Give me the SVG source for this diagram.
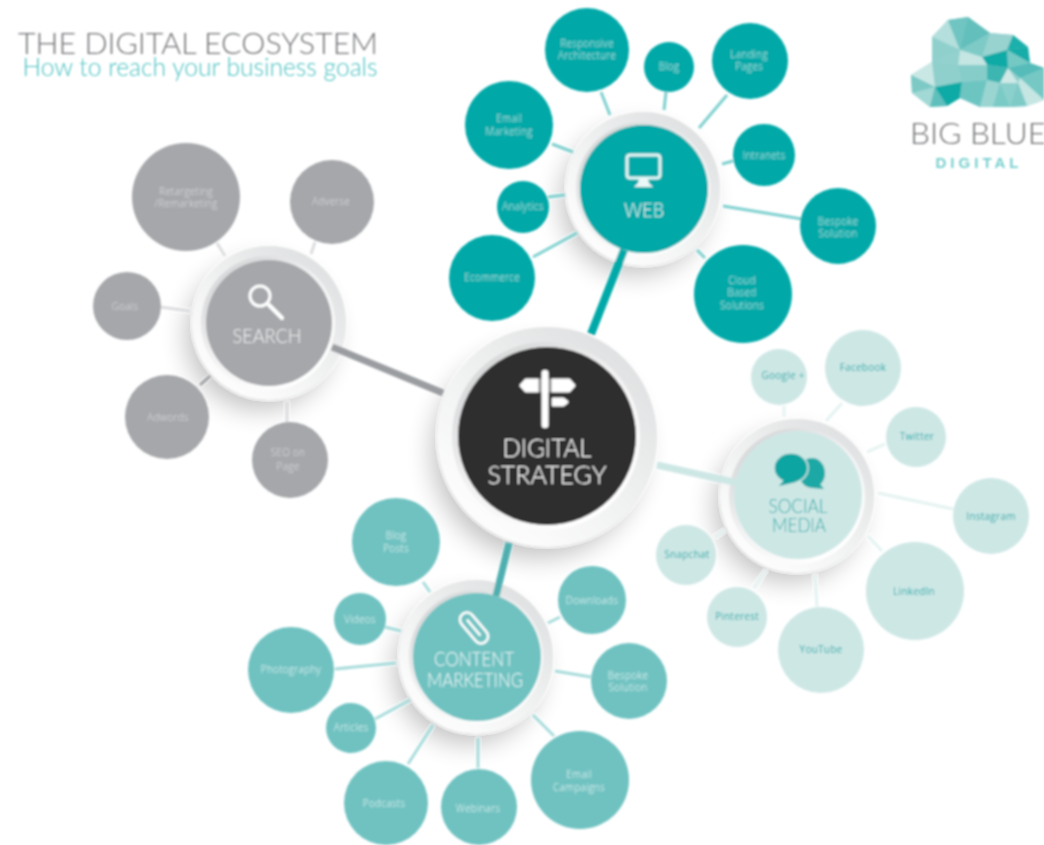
<svg xmlns="http://www.w3.org/2000/svg" width="1044" height="845" viewBox="0 0 1044 845">
<style>
text{font-family:"Open Sans","Liberation Sans",sans-serif;text-anchor:middle}
.lb{font-size:10px;font-weight:300;letter-spacing:.25px}
.w .lb{fill:#bfe9e7}.w .f{fill:#03a9a8}
.s .lb{fill:#dcdddf}.s .f{fill:#a5a7aa}
.m .lb{fill:#e6f6f5}.m .f{fill:#6fc2c1}
.o .lb{fill:#1faaa9;font-weight:400}.o .f{fill:#cde7e5}
.hl{font-family:Lato,"Open Sans",sans-serif;font-weight:300;font-size:20px}
.sw{fill:none;stroke-width:3;stroke-linecap:butt}
.ring{fill:url(#ringG)}
.ring2{fill:url(#ring2G)}
.sh{fill:#000;opacity:.24;filter:url(#shB)}
.ic{fill:none;stroke:#fff;stroke-width:3;stroke-linecap:round}
</style>
<defs>
<linearGradient id="ringG" x1="0.85" y1="0.1" x2="0.2" y2="0.9"><stop offset="0" stop-color="#dfe0e1"/><stop offset="0.55" stop-color="#f1f2f2"/><stop offset="1" stop-color="#fdfdfd"/></linearGradient>
<linearGradient id="ring2G" x1="0.1" y1="0.2" x2="0.7" y2="0.95"><stop offset="0" stop-color="#d9dadb"/><stop offset="0.45" stop-color="#f2f2f3"/><stop offset="1" stop-color="#ffffff"/></linearGradient>
<filter id="shB" x="-40%" y="-40%" width="180%" height="180%"><feGaussianBlur stdDeviation="13"/></filter>
<filter id="soft" filterUnits="userSpaceOnUse" x="0" y="0" width="1044" height="845"><feGaussianBlur stdDeviation="1"/></filter>
</defs>
<rect width="1044" height="845" fill="#fff"/>
<g filter="url(#soft)">
<g id="title">
<text x="198" y="54" textLength="360" lengthAdjust="spacingAndGlyphs" style="font-family:Lato,sans-serif;font-weight:300;font-size:30px" fill="#6f7174">THE DIGITAL ECOSYSTEM</text>
<text x="200" y="76" textLength="355" lengthAdjust="spacingAndGlyphs" style="font-family:Lato,sans-serif;font-weight:300;font-size:25px" fill="#45bfbf">How to reach your business goals</text>
</g>
<g id="logo">
<polygon fill="#8fd0cc" points="948,20 968,17 990,33 1013,35 1028,47 1030,63 1044,68 1044,100 1027,106 1010,107 993,107 980,107 960,98 947,106 930,107 912,93 911,75 932,62 932,37"/>
<polygon fill="#b4dfdc" points="948,20 932,37 960,50"/>
<polygon fill="#6fc4c1" points="948,20 968,17 960,50"/>
<polygon fill="#62bfbc" points="968,17 990,33 960,50"/>
<polygon fill="#7ecac7" points="990,33 982,57 960,50"/>
<polygon fill="#98d3d0" points="990,33 1013,35 1007,50 982,57"/>
<polygon fill="#1eb0ac" points="1013,35 1028,47 1007,50"/>
<polygon fill="#14aca8" points="1028,47 1030,63 1007,50"/>
<polygon fill="#75c9c5" points="1007,50 1030,63 1008,68"/>
<polygon fill="#10aaa6" points="982,57 1007,50 1008,68 987,65"/>
<polygon fill="#3db5b1" points="987,65 1008,68 1000,83 987,80"/>
<polygon fill="#c5e6e3" points="960,50 982,57 987,65 958,65"/>
<polygon fill="#8fd0cd" points="932,37 960,50 932,62"/>
<polygon fill="#93d1ce" points="932,62 960,50 958,65"/>
<polygon fill="#8fd0cc" points="932,62 958,65 962,82 935,87"/>
<polygon fill="#c9e7e5" points="911,75 932,62 935,87"/>
<polygon fill="#7cc9c6" points="911,75 935,87 912,93"/>
<polygon fill="#a2d8d5" points="912,93 935,87 930,107"/>
<polygon fill="#5fbfbc" points="935,87 947,106 930,107"/>
<polygon fill="#0caaa6" points="935,87 962,82 960,98 947,106"/>
<polygon fill="#6dc5c2" points="962,82 987,80 980,107 960,98"/>
<polygon fill="#86cdca" points="958,65 987,65 987,80 962,82"/>
<polygon fill="#9ad5d2" points="987,80 1000,83 993,107 980,107"/>
<polygon fill="#7acac6" points="1000,83 1010,107 993,107"/>
<polygon fill="#8bd0cc" points="1000,83 1018,83 1010,107"/>
<polygon fill="#cfe9e7" points="1008,68 1000,83 1018,83"/>
<polygon fill="#55bcb9" points="1008,68 1030,63 1044,68 1020,78"/>
<polygon fill="#74c8c4" points="1020,78 1044,68 1044,100"/>
<polygon fill="#c5e6e3" points="1020,78 1044,100 1027,106 1018,83"/>
<polygon fill="#7ecac7" points="1018,83 1027,106 1010,107"/>
<text x="978" y="144" textLength="136" lengthAdjust="spacingAndGlyphs" style="font-family:Lato,sans-serif;font-weight:300;font-size:30px" fill="#6f7174">BIG BLUE</text>
<text x="977" y="168" textLength="83" style="font-family:'Liberation Sans',sans-serif;font-weight:700;font-size:15px" fill="#74cfcd">DIGITAL</text>
</g>

<g id="hub-central">
<circle class="sh" cx="538" cy="452" r="106"/>
<circle class="ring" cx="547" cy="437" r="110"/>
<circle class="ring2" cx="546" cy="436" r="94"/>
<circle cx="547" cy="436" r="89" fill="#2f2f2f"/>
<g fill="#fff" stroke="#fff" stroke-linejoin="round" stroke-width="3">
<polygon points="526,380 569,380 574,385.500 569,391 526,391 521,385.500"/>
<polygon points="553,399 563,399 567,402 563,405 553,405"/>
</g>
<rect x="538.500" y="376" width="13" height="52" fill="#2f2f2f" opacity="0.55"/>
<rect x="541.500" y="370" width="7" height="58" rx="3" fill="#fff"/>
<text x="547" y="457" class="hl" style="font-size:25px" fill="#fff" textLength="89" lengthAdjust="spacingAndGlyphs">DIGITAL</text>
<text x="547" y="484" class="hl" style="font-size:25px" fill="#fff" textLength="119" lengthAdjust="spacingAndGlyphs">STRATEGY</text>
</g>

<g id="hub-web" class="w">
<circle class="sh" cx="635" cy="201" r="74"/>
<circle class="ring" cx="643" cy="189" r="77"/>
<circle class="ring2" cx="643" cy="189" r="67"/>
<circle class="f" cx="644" cy="189" r="64"/>
<rect x="627" y="155" width="33" height="23" rx="3" fill="none" stroke="#eaf8f7" stroke-width="3"/>
<polygon points="639,178 648,178 649,183 653,187 634,187 638,183" fill="#eaf8f7"/>
<text x="644" y="217" class="hl" fill="#e6f8f7" textLength="40" lengthAdjust="spacingAndGlyphs">WEB</text>
</g>
<g id="hub-search" class="s">
<circle class="sh" cx="260" cy="336" r="74"/>
<circle class="ring" cx="269" cy="323" r="77"/>
<circle class="ring2" cx="268" cy="323" r="67"/>
<circle class="f" cx="269" cy="323" r="63"/>
<circle cx="260" cy="296" r="10" class="ic"/>
<line x1="269" y1="305" x2="282" y2="318" class="ic" style="stroke-width:4"/>
<text x="267" y="343" class="hl" fill="#f2f3f3" textLength="69" lengthAdjust="spacingAndGlyphs">SEARCH</text>
</g>
<g id="hub-social" class="o">
<circle class="sh" cx="788" cy="508" r="74"/>
<circle class="ring" cx="797" cy="496" r="77"/>
<circle class="ring2" cx="797" cy="496" r="68"/>
<circle class="f" cx="798" cy="495" r="64"/>
<ellipse cx="812" cy="473" rx="13" ry="15" fill="#1fa9a6"/>
<polygon points="810,484 820,484 824,489 812,488" fill="#1fa9a6"/>
<ellipse cx="791" cy="468" rx="17" ry="15" fill="#0fa5a2" stroke="#cde7e5" stroke-width="1.500"/>
<polygon points="784,480 796,482 779,486" fill="#0fa5a2"/>
<text x="798" y="513" class="hl" fill="#14a6a4" textLength="59" lengthAdjust="spacingAndGlyphs">SOCIAL</text>
<text x="799" y="532" class="hl" fill="#14a6a4" textLength="54" lengthAdjust="spacingAndGlyphs">MEDIA</text>
</g>
<g id="hub-content" class="m">
<circle class="sh" cx="468" cy="670" r="74"/>
<circle class="ring" cx="476" cy="657" r="77"/>
<circle class="ring2" cx="476" cy="657" r="67"/>
<circle class="f" cx="477" cy="657" r="64"/>
<g transform="rotate(50 474 628)" fill="none" stroke="#fff" stroke-width="2.500">
<rect x="456" y="621" width="36" height="14" rx="7"/>
<path d="M463,628 H484"/>
</g>
<text x="474" y="666" class="hl" fill="#f0fafa" textLength="80" lengthAdjust="spacingAndGlyphs">CONTENT</text>
<text x="475" y="687" class="hl" fill="#f0fafa" textLength="96" lengthAdjust="spacingAndGlyphs">MARKETING</text>
</g>

<g id="connectors">
<g class="sw" stroke="#7fd0cf">
<line x1="601" y1="92" x2="610" y2="115"/><line x1="666" y1="92" x2="664" y2="110"/><line x1="727" y1="95" x2="699" y2="128"/><line x1="552" y1="144" x2="573" y2="152"/><line x1="733" y1="161" x2="722" y2="164"/><line x1="802" y1="219" x2="723" y2="206"/><line x1="548" y1="197" x2="565" y2="195"/><line x1="533" y1="257" x2="577" y2="233"/><line x1="705" y1="258" x2="697" y2="250"/>
</g>
<g class="sw" stroke="#dcdddf">
<line x1="217" y1="243" x2="225" y2="256"/><line x1="315" y1="242" x2="311" y2="254"/><line x1="160" y1="307" x2="190" y2="311"/><line x1="200" y1="385" x2="210" y2="376" stroke="#a0a2a5"/><line x1="287" y1="423" x2="287" y2="402"/>
</g>
<g class="sw" stroke="#e4f3f1">
<line x1="784" y1="406" x2="784" y2="417"/><line x1="842" y1="403" x2="826" y2="421"/><line x1="885" y1="444" x2="867" y2="452"/><line x1="953" y1="509" x2="878" y2="493"/><line x1="882" y1="551" x2="868" y2="536"/><line x1="817" y1="607" x2="815" y2="575"/><line x1="754" y1="588" x2="766" y2="570"/><line x1="715" y1="537" x2="725" y2="530"/>
</g>
<g class="sw" stroke="#a8dcdb">
<line x1="423" y1="582" x2="430" y2="592"/><line x1="385" y1="627" x2="401" y2="631"/><line x1="335" y1="669" x2="396" y2="663"/><line x1="375" y1="719" x2="410" y2="700"/><line x1="408" y1="764" x2="433" y2="725"/><line x1="478" y1="768" x2="478" y2="738"/><line x1="554" y1="736" x2="533" y2="715"/><line x1="591" y1="677" x2="555" y2="671"/><line x1="560" y1="617" x2="548" y2="623"/>
</g>
<line x1="624" y1="250" x2="591" y2="334" stroke="#03a9a8" stroke-width="8"/>
<line x1="332" y1="347" x2="443" y2="393" stroke="#9a9ca0" stroke-width="7"/>
<line x1="657" y1="465" x2="738" y2="483" stroke="#cde7e5" stroke-width="7"/>
<line x1="509" y1="543" x2="496" y2="596" stroke="#4fafb0" stroke-width="7"/>
</g>

<g class="w">
<g id="web-responsive"><circle class="f" cx="587" cy="50" r="42"/><text class="lb" x="587" y="46.500">Responsive</text><text class="lb" x="587" y="59">Architecture</text></g>
<g id="web-blog"><circle class="f" cx="669" cy="67" r="25"/><text class="lb" x="669" y="70">Blog</text></g>
<g id="web-landing"><circle class="f" cx="750" cy="61" r="38"/><text class="lb" x="749" y="58">Landing</text><text class="lb" x="749" y="70">Pages</text></g>
<g id="web-email"><circle class="f" cx="509" cy="125" r="44"/><text class="lb" x="509" y="122">Email</text><text class="lb" x="509" y="135">Marketing</text></g>
<g id="web-intranets"><circle class="f" cx="764" cy="155" r="31"/><text class="lb" x="764" y="159">Intranets</text></g>
<g id="web-bespoke"><circle class="f" cx="838" cy="226" r="38"/><text class="lb" x="838" y="225">Bespoke</text><text class="lb" x="838" y="237">Solution</text></g>
<g id="web-analytics"><circle class="f" cx="523" cy="207" r="26"/><text class="lb" x="523" y="210">Analytics</text></g>
<g id="web-ecommerce"><circle class="f" cx="492" cy="278" r="43"/><text class="lb" x="492" y="281">Ecommerce</text></g>
<g id="web-cloud"><circle class="f" cx="743" cy="294" r="49"/><text class="lb" x="742" y="284">Cloud</text><text class="lb" x="742" y="296">Based</text><text class="lb" x="742" y="309">Solutions</text></g>
</g>
<g class="s">
<g id="search-retargeting"><circle class="f" cx="186" cy="197" r="54"/><text class="lb" x="186" y="195">Retargeting</text><text class="lb" x="186" y="207">/Remarketing</text></g>
<g id="search-adverse"><circle class="f" cx="332" cy="202" r="42"/><text class="lb" x="331" y="205">Adverse</text></g>
<g id="search-goals"><circle class="f" cx="127" cy="306" r="34"/><text class="lb" x="125" y="310">Goals</text></g>
<g id="search-adwords"><circle class="f" cx="167" cy="417" r="42"/><text class="lb" x="168" y="421">Adwords</text></g>
<g id="search-seo"><circle class="f" cx="290" cy="460" r="38"/><text class="lb" x="288" y="456">SEO on</text><text class="lb" x="288" y="470">Page</text></g>
</g>
<g class="o">
<g id="social-google"><circle class="f" cx="779" cy="377" r="28"/><text class="lb" x="783" y="379">Google +</text></g>
<g id="social-facebook"><circle class="f" cx="863" cy="368" r="38"/><text class="lb" x="863" y="371">Facebook</text></g>
<g id="social-twitter"><circle class="f" cx="916" cy="437" r="30"/><text class="lb" x="917" y="440">Twitter</text></g>
<g id="social-instagram"><circle class="f" cx="991" cy="516" r="38"/><text class="lb" x="991" y="520">Instagram</text></g>
<g id="social-linkedin"><circle class="f" cx="915" cy="591" r="49"/><text class="lb" x="914" y="595">LinkedIn</text></g>
<g id="social-youtube"><circle class="f" cx="821" cy="650" r="43"/><text class="lb" x="821" y="653">YouTube</text></g>
<g id="social-pinterest"><circle class="f" cx="737" cy="617" r="30"/><text class="lb" x="737" y="620">Pinterest</text></g>
<g id="social-snapchat"><circle class="f" cx="686" cy="555" r="30"/><text class="lb" x="687" y="558">Snapchat</text></g>
</g>
<g class="m">
<g id="content-blog"><circle class="f" cx="396" cy="542" r="44"/><text class="lb" x="396" y="539">Blog</text><text class="lb" x="396" y="552">Posts</text></g>
<g id="content-videos"><circle class="f" cx="360" cy="619" r="26"/><text class="lb" x="360" y="623">Videos</text></g>
<g id="content-photography"><circle class="f" cx="291" cy="670" r="43"/><text class="lb" x="291" y="673">Photography</text></g>
<g id="content-articles"><circle class="f" cx="351" cy="728" r="25"/><text class="lb" x="351" y="731">Articles</text></g>
<g id="content-podcasts"><circle class="f" cx="386" cy="803" r="42"/><text class="lb" x="384" y="807">Podcasts</text></g>
<g id="content-webinars"><circle class="f" cx="479" cy="807" r="38"/><text class="lb" x="478" y="812">Webinars</text></g>
<g id="content-email"><circle class="f" cx="580" cy="780" r="49"/><text class="lb" x="579" y="778">Email</text><text class="lb" x="579" y="791">Campaigns</text></g>
<g id="content-bespoke"><circle class="f" cx="629" cy="681" r="38"/><text class="lb" x="628" y="679">Bespoke</text><text class="lb" x="628" y="691">Solution</text></g>
<g id="content-downloads"><circle class="f" cx="592" cy="600" r="34"/><text class="lb" x="592" y="604">Downloads</text></g>
</g>
</g>
</svg>
